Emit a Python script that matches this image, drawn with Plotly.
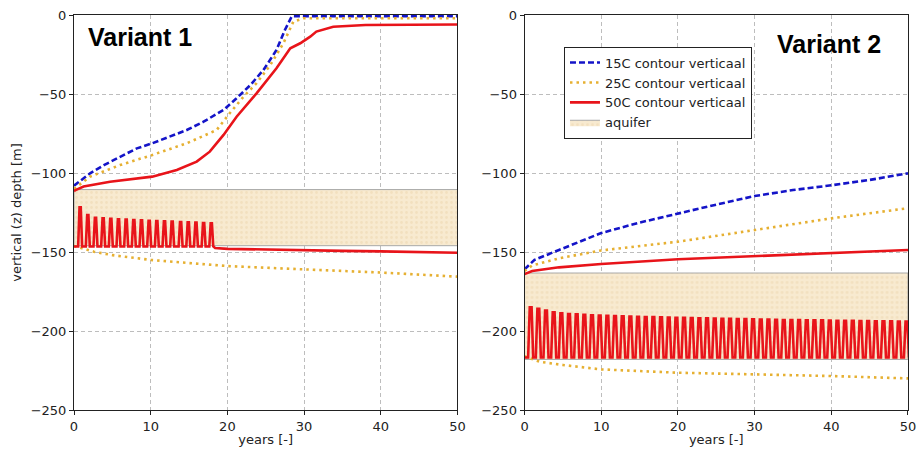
import plotly.graph_objects as go
from plotly.subplots import make_subplots

# ---------------- data ----------------
years_axis = [0, 50]

# Variant 1
v1_c15_years = [0, 0.4, 2.1, 3.9, 6.0, 8.2, 10.2, 12.5, 14.7, 16.9, 19.5, 21.2, 23.0, 24.7, 26.4, 27.5, 28.4, 30, 40, 50]
v1_c15_depth = [-108, -106.5, -100.2, -95, -89.7, -84.4, -81.2, -77, -72.8, -67.5, -60.1, -52.7, -44.3, -34.8, -22.2, -9.5, -0.8, -0.8, -0.8, -0.8]

v1_c25_up_years = [0, 0.4, 2.1, 6.0, 10.2, 14.7, 18.6, 20.3, 22.1, 23.8, 25.6, 27.3, 28.6, 29.9, 40, 50]
v1_c25_up_depth = [-110, -108.6, -102.3, -95, -88.6, -81.2, -72.8, -62.2, -51.7, -43.2, -31.6, -17.9, -4.2, -2.1, -2.1, -2.1]

v1_c25_lo_years = [0, 2.6, 5, 10, 15, 20, 30, 40, 50]
v1_c25_lo_depth = [-146.2, -149.8, -152, -155, -157, -158.9, -161, -163, -165.6]

v1_c50_up_years = [0, 0.2, 1.25, 4.7, 10.2, 13.4, 16.0, 17.7, 19.5, 21.2, 23.8, 26.4, 28.2, 29.5, 30.8, 31.6, 33.8, 38, 50]
v1_c50_up_depth = [-111.5, -110.8, -108.6, -105.5, -102.3, -98.1, -92.8, -86.5, -75.9, -64.4, -49.6, -33.7, -21.1, -17.9, -13.7, -10.5, -7.4, -6.3, -6]

v1_spike_years = [0.8, 1.8, 2.8, 3.8, 4.8, 5.8, 6.8, 7.8, 8.8, 9.8,
                  10.8, 11.8, 12.8, 13.9, 14.9, 15.9, 16.9, 17.9]
v1_spike_tops = [-121.7, -126.6, -128.3, -128.7, -129.0, -129.3, -129.5, -129.7, -130.0, -130.2,
                 -130.4, -130.6, -130.8, -131.0, -131.2, -131.4, -131.6, -131.8]
v1_spike_base = -146.5
v1_tail_years = [18.4, 20, 22, 25, 30, 35, 40, 45, 50]
v1_tail_depth = [-147.5, -148, -148.2, -148.6, -149, -149.3, -149.6, -149.9, -150.5]

v1_aquifer = [-110.5, -146]

# Variant 2
v2_c15_years = [0, 0.3, 1.3, 4.5, 10, 15, 20, 25, 30, 35, 40, 45, 50]
v2_c15_depth = [-161, -159.7, -155, -148.7, -138, -131.4, -125.5, -120, -114.6, -110.8, -107.8, -104.4, -100.2]

v2_c25_up_years = [0, 1, 4.5, 10, 20, 30, 40, 50]
v2_c25_up_depth = [-162, -158.5, -154, -149, -143.5, -136, -128.7, -122.3]

v2_c25_lo_years = [0, 2, 5, 10, 20, 30, 40, 50]
v2_c25_lo_depth = [-216, -219.5, -221.5, -224.3, -226.4, -227.4, -228.5, -230]

v2_c50_up_years = [0, 1, 4.5, 10, 20, 30, 40, 50]
v2_c50_up_depth = [-164, -162, -159.7, -157.6, -154.6, -152.5, -150.4, -148.7]

v2_spike_years = [0.8, 1.8, 2.8, 3.8, 4.8, 5.8, 6.8, 7.8, 8.8, 9.8,
                  10.8, 11.8, 12.8, 13.8, 14.8, 15.8, 16.8, 17.8, 18.8, 19.8,
                  20.8, 21.8, 22.8, 23.8, 24.8, 25.8, 26.8, 27.8, 28.8, 29.8,
                  30.8, 31.8, 32.8, 33.8, 34.8, 35.8, 36.8, 37.8, 38.8, 39.8,
                  40.8, 41.8, 42.8, 43.8, 44.8, 45.8, 46.8, 47.8, 48.8, 49.8]
v2_spike_tops = [-185.0, -186.0, -187.0, -188.2, -188.8, -189.2, -189.5, -189.8, -190.0, -190.2,
                 -190.4, -190.5, -190.7, -190.8, -191.0, -191.1, -191.2, -191.4, -191.5, -191.6,
                 -191.7, -191.8, -191.9, -192.0, -192.1, -192.2, -192.3, -192.4, -192.5, -192.6,
                 -192.7, -192.8, -192.9, -193.0, -193.0, -193.1, -193.2, -193.3, -193.3, -193.4,
                 -193.5, -193.5, -193.6, -193.7, -193.7, -193.8, -193.9, -193.9, -194.0, -194.0]
v2_spike_base = -216.8

v2_aquifer = [-163.3, -218]

# ---------------- styling ----------------
BLUE = "#1414C8"
GOLD = "#E6B032"
RED = "#E8141A"
AQ_BG = "#F8EAD0"
AQ_FG = "#EBD6AE"
DASH = "6px,3px"
DOT = "2.5px,4px"
LW = 2.6
FONT = "DejaVu Sans"
TXT = "#222"


def spike_series(t_list, tops, base, half_base, half_top, start=0.0):
    xs, ys = [start], [base]
    for t, p in zip(t_list, tops):
        xs += [t - half_base, t - half_top, t + half_top, t + half_base]
        ys += [base, p, p, base]
    return xs, ys


fig = make_subplots(rows=1, cols=2, horizontal_spacing=0.0804)


def add_aquifer(col, bounds, show):
    top, bot = bounds
    fig.add_trace(go.Scatter(
        x=[years_axis[0], years_axis[1], years_axis[1], years_axis[0], years_axis[0]],
        y=[top, top, bot, bot, top], mode="lines", fill="toself",
        fillcolor=AQ_BG,
        fillpattern=dict(shape=".", bgcolor=AQ_BG, fgcolor=AQ_FG, size=5, solidity=0.25),
        line=dict(color="#A8A8A8", width=1), name="aquifer",
        legendrank=4, showlegend=show, hoverinfo="skip"), row=1, col=col)


add_aquifer(1, v1_aquifer, False)
add_aquifer(2, v2_aquifer, True)

# Variant 1 lines
fig.add_trace(go.Scatter(x=v1_c15_years, y=v1_c15_depth, mode="lines",
                         line=dict(color=BLUE, width=LW, dash=DASH), showlegend=False), row=1, col=1)
fig.add_trace(go.Scatter(x=v1_c25_up_years, y=v1_c25_up_depth, mode="lines",
                         line=dict(color=GOLD, width=LW, dash=DOT), showlegend=False), row=1, col=1)
fig.add_trace(go.Scatter(x=v1_c25_lo_years, y=v1_c25_lo_depth, mode="lines",
                         line=dict(color=GOLD, width=LW, dash=DOT), showlegend=False), row=1, col=1)
fig.add_trace(go.Scatter(x=v1_c50_up_years, y=v1_c50_up_depth, mode="lines",
                         line=dict(color=RED, width=LW), showlegend=False), row=1, col=1)
sx, sy = spike_series(v1_spike_years, v1_spike_tops, v1_spike_base, 0.26, 0.08)
sx += v1_tail_years
sy += v1_tail_depth
fig.add_trace(go.Scatter(x=sx, y=sy, mode="lines",
                         line=dict(color=RED, width=LW), showlegend=False), row=1, col=1)

# Variant 2 lines
fig.add_trace(go.Scatter(x=v2_c15_years, y=v2_c15_depth, mode="lines", name="15C contour verticaal",
                         legendrank=1, line=dict(color=BLUE, width=LW, dash=DASH)), row=1, col=2)
fig.add_trace(go.Scatter(x=v2_c25_up_years, y=v2_c25_up_depth, mode="lines", name="25C contour verticaal",
                         legendrank=2, line=dict(color=GOLD, width=LW, dash=DOT)), row=1, col=2)
fig.add_trace(go.Scatter(x=v2_c25_lo_years, y=v2_c25_lo_depth, mode="lines",
                         line=dict(color=GOLD, width=LW, dash=DOT), showlegend=False), row=1, col=2)
fig.add_trace(go.Scatter(x=v2_c50_up_years, y=v2_c50_up_depth, mode="lines", name="50C contour verticaal",
                         legendrank=3, line=dict(color=RED, width=LW)), row=1, col=2)
sx2, sy2 = spike_series(v2_spike_years, v2_spike_tops, v2_spike_base, 0.33, 0.12)
sx2 += [years_axis[1]]
sy2 += [v2_spike_base]
fig.add_trace(go.Scatter(x=sx2, y=sy2, mode="lines",
                         line=dict(color=RED, width=LW), showlegend=False), row=1, col=2)

axis_common = dict(showline=True, mirror=True, linecolor="#222", linewidth=1,
                   ticks="outside", ticklen=4, tickcolor="#222",
                   showgrid=True, gridcolor="#BDBDBD", griddash="4px,3px", gridwidth=0.8,
                   zeroline=False, tickfont=dict(family=FONT, size=13, color=TXT))

for c in (1, 2):
    fig.update_xaxes(range=[0, 50], tickvals=[0, 10, 20, 30, 40, 50],
                     title=dict(text="years [-]", font=dict(family=FONT, size=13, color=TXT), standoff=2),
                     row=1, col=c, **axis_common)
    fig.update_yaxes(range=[-250, 0], tickvals=[-250, -200, -150, -100, -50, 0],
                     row=1, col=c, **axis_common)
fig.update_yaxes(title=dict(text="vertical (z) depth [m]", font=dict(family=FONT, size=13, color=TXT),
                            standoff=6), row=1, col=1)

fig.add_annotation(text="<b>Variant 1</b>", xref="paper", yref="paper", x=0.0797, y=0.944,
                   xanchor="center", yanchor="middle", showarrow=False,
                   font=dict(family="Liberation Sans", size=25, color="black"))
fig.add_annotation(text="<b>Variant 2</b>", xref="paper", yref="paper", x=0.905, y=0.927,
                   xanchor="center", yanchor="middle", showarrow=False,
                   font=dict(family="Liberation Sans", size=25, color="black"))

fig.update_layout(
    width=918, height=450,
    margin=dict(l=74, r=10, t=15, b=40, autoexpand=False),
    paper_bgcolor="white", plot_bgcolor="white",
    legend=dict(x=0.5875, y=0.92, xanchor="left", yanchor="top",
                bordercolor="#222", borderwidth=1, bgcolor="white",
                font=dict(family=FONT, size=13, color=TXT),
                tracegroupgap=0, itemwidth=30),
    showlegend=True,
)

fig.write_html("out.html", config={"displayModeBar": False},
               post_script="document.body.style.margin='0px';")
